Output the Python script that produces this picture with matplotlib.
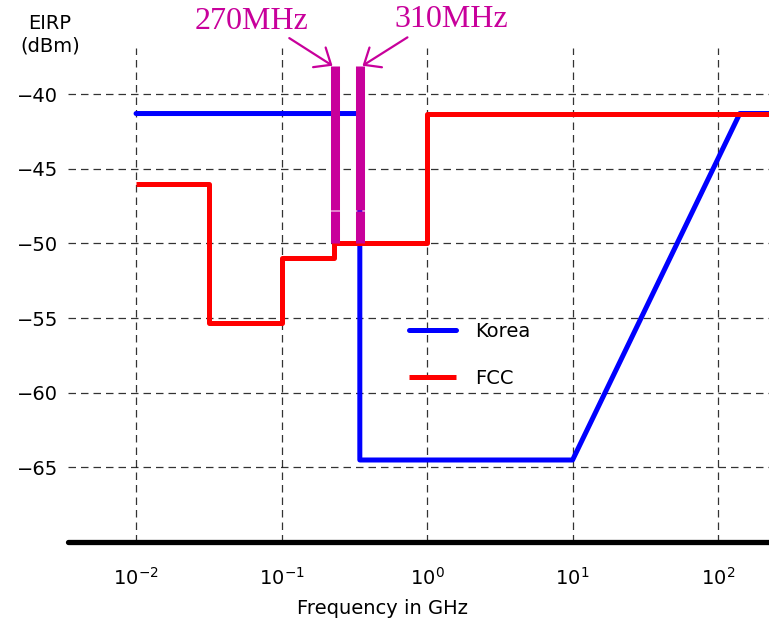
import matplotlib.pyplot as plt

# Korea limit (GHz, dBm)
korea_f = [0.01, 0.345, 0.345, 10.0, 141.0, 230.0]
korea_p = [-41.3, -41.3, -64.5, -64.5, -41.3, -41.3]

# FCC limit (GHz, dBm), step edges
fcc_f = [0.01, 0.0318, 0.0318, 0.1, 0.1, 0.228, 0.228, 1.0, 1.0, 230.0]
fcc_p = [-46.0, -46.0, -55.3, -55.3, -51.0, -51.0, -50.0, -50.0, -41.3, -41.3]

# marked frequencies (positions as drawn)
mark_f = [0.234, 0.345]
mark_labels = ["270MHz", "310MHz"]
mark_top = -38.1
mark_bottom = -50.0

yticks = [-40, -45, -50, -55, -60, -65]
xticks = [0.01, 0.1, 1, 10, 100]

magenta = "#c8009b"

fig = plt.figure(figsize=(7.69, 6.21), dpi=100)
ax = fig.add_axes([0.088, 0.127, 0.912, 0.796])
ax.set_xscale("log")
ax.set_xlim(10 ** -2.47, 10 ** 2.35)
ax.set_ylim(-70, -36.9)

for s in ["top", "right", "left"]:
    ax.spines[s].set_visible(False)
ax.spines["bottom"].set_linewidth(3.8)
ax.spines["bottom"].set_capstyle("round")

ax.set_yticks(yticks)
ax.set_yticklabels(["\u221240", "\u221245", "\u221250", "\u221255", "\u221260", "\u221265"])
ax.set_xticks(xticks)
ax.minorticks_off()
ax.tick_params(length=0, labelsize=14)
ax.tick_params(axis="x", pad=18)
ax.tick_params(axis="y", pad=7)
ax.grid(True, color="black", linestyle=(0, (6, 4)), linewidth=0.9, alpha=0.8)
ax.set_axisbelow(True)

ax.plot(korea_f, korea_p, color="#0000ff", lw=3.6, label="Korea", solid_capstyle="round", zorder=3)
ax.plot(fcc_f, fcc_p, color="#ff0000", lw=3.6, label="FCC", solid_capstyle="butt", zorder=4)

for f in mark_f:
    ax.plot([f, f], [mark_top, -47.75], color=magenta, lw=6.5, solid_capstyle="butt", zorder=5)
    ax.plot([f, f], [-47.85, mark_bottom], color=magenta, lw=6.5, solid_capstyle="butt", zorder=5)

# arrows from the labels to the bars
head = "->,head_length=0.5,head_width=0.42"
ax.annotate("", xy=(0.224, mark_top), xytext=(0.113, -36.25), annotation_clip=False,
            arrowprops=dict(arrowstyle=head, color=magenta, lw=1.6,
                            shrinkA=0, shrinkB=0, mutation_scale=20))
ax.annotate("", xy=(0.36, mark_top), xytext=(0.733, -36.2), annotation_clip=False,
            arrowprops=dict(arrowstyle=head, color=magenta, lw=1.6,
                            shrinkA=0, shrinkB=0, mutation_scale=20))
fig.text(0.327, 0.966, mark_labels[0], color=magenta, fontsize=23,
         family="Liberation Serif", ha="center", va="center")
fig.text(0.587, 0.968, mark_labels[1], color=magenta, fontsize=23,
         family="Liberation Serif", ha="center", va="center")

ax.legend(loc="center left", bbox_to_anchor=(0.462, 0.379), frameon=False, fontsize=14,
          handlelength=2.4, labelspacing=1.45, handletextpad=1.0)

fig.text(0.065, 0.944, "EIRP\n(dBm)", ha="center", va="center", fontsize=14, linespacing=1.2)
ax.set_xlabel("Frequency in GHz", fontsize=14, labelpad=4)
ax.xaxis.set_label_coords(0.449, -0.115)

fig.savefig("out.png", dpi=100)
